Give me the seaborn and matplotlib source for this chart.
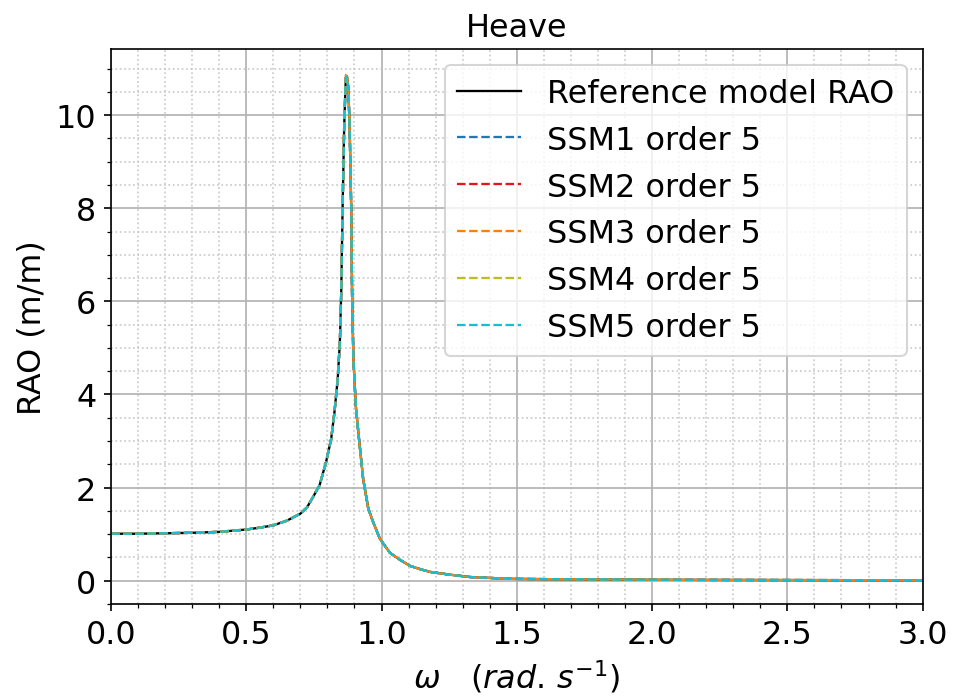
import numpy as np
import pandas as pd
import matplotlib
matplotlib.use("Agg")
import matplotlib.pyplot as plt
import seaborn as sns
from matplotlib.ticker import MultipleLocator

# ---- data ----
omega = [0.0, 0.1, 0.2, 0.3, 0.4, 0.5, 0.55, 0.6, 0.65, 0.7, 0.725, 0.747, 0.771,
         0.795, 0.814, 0.826, 0.838, 0.846, 0.851, 0.856, 0.862, 0.868, 0.872,
         0.877, 0.882, 0.888, 0.891, 0.896, 0.905, 0.914, 0.932, 0.951, 0.969,
         0.994, 1.031, 1.068, 1.105, 1.142, 1.179, 1.253, 1.327, 1.40, 1.49,
         1.6, 1.75, 2.0, 2.5, 3.0]
ref_rao = [1.01, 1.01, 1.02, 1.03, 1.05, 1.10, 1.14, 1.19, 1.29, 1.44, 1.58, 1.80,
           2.05, 2.55, 3.05, 3.62, 4.33, 5.12, 6.19, 7.98, 9.77, 10.80, 10.83,
           10.6, 9.77, 7.98, 6.19, 4.76, 3.75, 3.20, 2.19, 1.55, 1.26, 0.90, 0.60,
           0.45, 0.32, 0.25, 0.19, 0.13, 0.08, 0.06, 0.04, 0.035, 0.03, 0.02,
           0.015, 0.01]
ssm1_rao = list(ref_rao)
ssm2_rao = list(ref_rao)
ssm3_rao = ref_rao[:21] + [10.86, 10.88] + ref_rao[23:]
ssm4_rao = list(ref_rao)
ssm5_rao = list(ref_rao)

series_labels = ["Reference model RAO", "SSM1 order 5", "SSM2 order 5",
                 "SSM3 order 5", "SSM4 order 5", "SSM5 order 5"]
series_values = [ref_rao, ssm1_rao, ssm2_rao, ssm3_rao, ssm4_rao, ssm5_rao]
colors = ["black", "#1f77b4", "#e8141c", "#ff7f0e", "#bcbd22", "#17becf"]
styles = ["-", "--", "--", "--", "--", "--"]

FS = 15.3

fig = plt.figure(figsize=(6.4, 4.6533), dpi=150)
ax = fig.add_axes([0.1156, 0.1332, 0.8455, 0.7952])

for lab, vals, col, ls in zip(series_labels, series_values, colors, styles):
    df = pd.DataFrame({"omega": omega, "rao": vals})
    sns.lineplot(data=df, x="omega", y="rao", ax=ax, color=col, linestyle=ls,
                 linewidth=1.1, label=lab, sort=False, estimator=None)

ax.set_xlim(0, 3.0)
ax.set_ylim(-0.5, 11.42)
ax.xaxis.set_major_locator(MultipleLocator(0.5))
ax.xaxis.set_minor_locator(MultipleLocator(0.1))
ax.yaxis.set_major_locator(MultipleLocator(2))
ax.yaxis.set_minor_locator(MultipleLocator(0.5))
ax.grid(which="major", color="#b0b0b0", linewidth=0.8)
ax.grid(which="minor", color="#c8c8c8", linestyle=":", linewidth=0.8)
ax.tick_params(labelsize=FS)

ax.set_title("Heave", fontsize=FS)
ax.set_xlabel(r"$\omega$   $(rad.\,s^{-1})$", fontsize=FS)
ax.set_ylabel("RAO (m/m)", fontsize=FS)
ax.legend(loc="upper right", fontsize=FS)

fig.savefig("out.png", dpi=150)
